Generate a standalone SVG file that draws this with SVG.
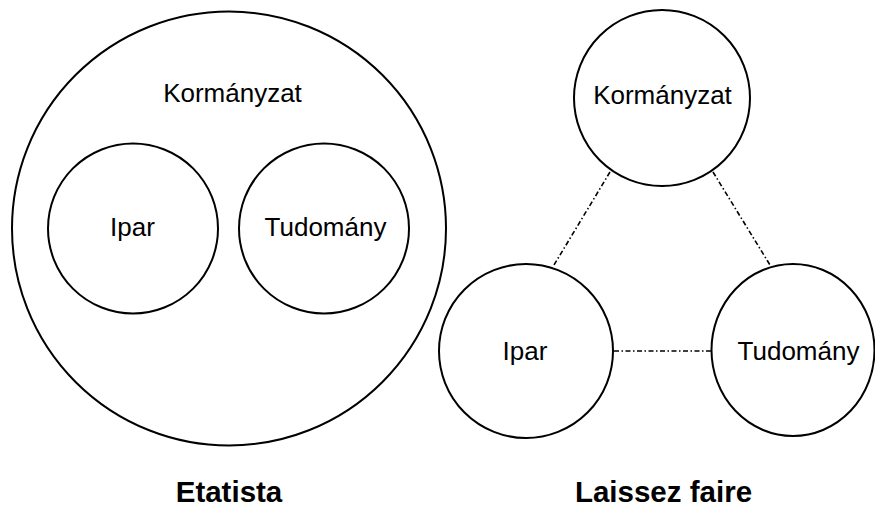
<svg xmlns="http://www.w3.org/2000/svg" width="875" height="507" viewBox="0 0 875 507">
  <style>
    .node { fill: none; stroke: #000; stroke-width: 2; }
    .label { font-family: "Liberation Sans", Arial, sans-serif; font-size: 26px; fill: #000; text-anchor: middle; }
    .title { font-family: "Liberation Sans", Arial, sans-serif; font-size: 29.5px; font-weight: bold; fill: #000; text-anchor: middle; }
    .link { stroke: #000; stroke-width: 1.6; stroke-dasharray: 5 2.5 1.5 2.5; fill: none; }
  </style>
  <rect width="875" height="507" fill="#fff"/>

  <!-- Etatista model: state containing industry and science -->
  <g id="etatista-kormanyzat">
    <circle class="node" cx="229" cy="228.5" r="217"/>
    <text class="label" x="232.5" y="102">Kormányzat</text>
  </g>
  <g id="etatista-ipar">
    <circle class="node" cx="133" cy="228.5" r="85"/>
    <text class="label" x="132.5" y="236">Ipar</text>
  </g>
  <g id="etatista-tudomany">
    <circle class="node" cx="324" cy="228.5" r="85"/>
    <text class="label" x="325.5" y="236">Tudomány</text>
  </g>

  <!-- Laissez faire model: three separate spheres -->
  <g id="lf-connectors">
    <line class="link" x1="610" y1="172" x2="554" y2="265"/>
    <line class="link" x1="713" y1="172" x2="770" y2="265"/>
    <line class="link" x1="614" y1="351" x2="711" y2="351"/>
  </g>
  <g id="lf-kormanyzat">
    <circle class="node" cx="662" cy="98" r="88"/>
    <text class="label" x="662.5" y="104">Kormányzat</text>
  </g>
  <g id="lf-ipar">
    <circle class="node" cx="526" cy="351" r="87"/>
    <text class="label" x="525" y="360">Ipar</text>
  </g>
  <g id="lf-tudomany">
    <ellipse class="node" cx="793" cy="350" rx="81.5" ry="86"/>
    <text class="label" x="798.5" y="360">Tudomány</text>
  </g>

  <!-- Captions -->
  <text class="title" x="229" y="502">Etatista</text>
  <text class="title" x="663.5" y="502">Laissez faire</text>
</svg>
